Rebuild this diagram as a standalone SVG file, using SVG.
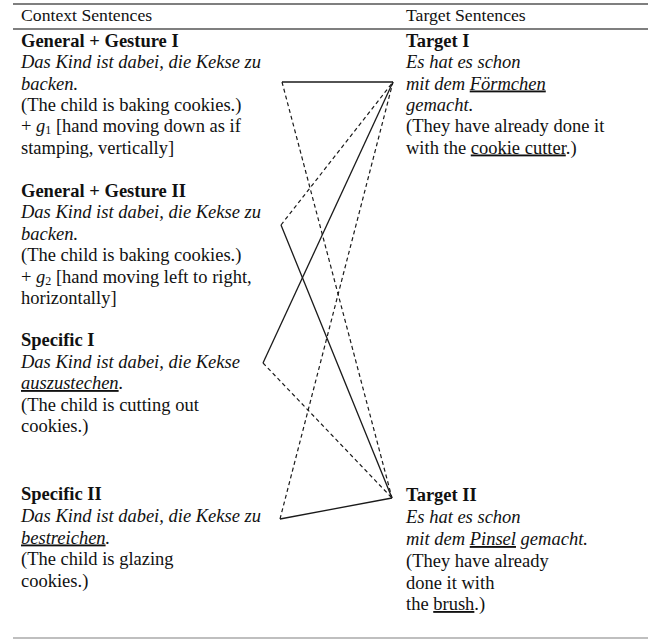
<svg xmlns="http://www.w3.org/2000/svg" width="652" height="639" viewBox="0 0 652 639">
<style>
text{font-family:"Liberation Serif","Times New Roman",serif;font-size:18.5px;fill:#111}
.hd{font-size:17.7px}
.b{font-weight:bold}
.i{font-style:italic}
.u{text-decoration:underline}
.sub{font-size:12px;font-style:normal}
.solid{stroke:#1a1a1a;stroke-width:1.3;fill:none}
.dash{stroke:#1a1a1a;stroke-width:1.2;fill:none;stroke-dasharray:4 3}
</style>
<rect width="652" height="639" fill="#fff"/>
<g id="rules">
<line x1="13" y1="4" x2="648" y2="4" stroke="#555" stroke-width="1.6"/>
<line x1="13" y1="29" x2="648" y2="29" stroke="#555" stroke-width="1.6"/>
<line x1="13" y1="638" x2="648" y2="638" stroke="#aaa" stroke-width="1.6"/>
</g>
<g id="headers">
<text class="hd" x="21" y="21">Context Sentences</text>
<text class="hd" x="406" y="21">Target Sentences</text>
</g>
<g id="general-gesture-1">
<text class="b" x="21" y="47">General + Gesture I</text>
<text class="i" x="21" y="68">Das Kind ist dabei, die Kekse zu</text>
<text class="i" x="21" y="89.5">backen.</text>
<text x="21" y="111">(The child is baking cookies.)</text>
<text x="21" y="132">+ <tspan class="i">g</tspan><tspan class="sub" dy="2">1</tspan><tspan dy="-2"> [hand moving down as if</tspan></text>
<text x="21" y="153.5">stamping, vertically]</text>
</g>
<g id="general-gesture-2">
<text class="b" x="21" y="197">General + Gesture II</text>
<text class="i" x="21" y="218">Das Kind ist dabei, die Kekse zu</text>
<text class="i" x="21" y="239.5">backen.</text>
<text x="21" y="261">(The child is baking cookies.)</text>
<text x="21" y="282.5">+ <tspan class="i">g</tspan><tspan class="sub" dy="2">2</tspan><tspan dy="-2"> [hand moving left to right,</tspan></text>
<text x="21" y="304">horizontally]</text>
</g>
<g id="specific-1">
<text class="b" x="21" y="346">Specific I</text>
<text class="i" x="21" y="367.5">Das Kind ist dabei, die Kekse</text>
<text class="i" x="21" y="389"><tspan class="u">auszustechen</tspan>.</text>
<text x="21" y="410.5">(The child is cutting out</text>
<text x="21" y="432">cookies.)</text>
</g>
<g id="specific-2">
<text class="b" x="21" y="500">Specific II</text>
<text class="i" x="21" y="522">Das Kind ist dabei, die Kekse zu</text>
<text class="i" x="21" y="543.5"><tspan class="u">bestreichen</tspan>.</text>
<text x="21" y="565">(The child is glazing</text>
<text x="21" y="586.5">cookies.)</text>
</g>
<g id="target-1">
<text class="b" x="406" y="47">Target I</text>
<text class="i" x="406" y="68">Es hat es schon</text>
<text class="i" x="406" y="89.5">mit dem <tspan class="u">Förmchen</tspan></text>
<text class="i" x="406" y="111">gemacht.</text>
<text x="406" y="132">(They have already done it</text>
<text x="406" y="153.5">with the <tspan class="u">cookie cutter</tspan>.)</text>
</g>
<g id="target-2">
<text class="b" x="406" y="501">Target II</text>
<text class="i" x="406" y="523">Es hat es schon</text>
<text class="i" x="406" y="545">mit dem <tspan class="u">Pinsel</tspan> gemacht.</text>
<text x="406" y="567">(They have already</text>
<text x="406" y="588.5">done it with</text>
<text x="406" y="610">the <tspan class="u">brush</tspan>.)</text>
</g>
<g id="connectors">
<line class="solid" x1="282" y1="82" x2="393" y2="82"/>
<line class="dash" x1="282" y1="82" x2="392" y2="498"/>
<line class="dash" x1="281" y1="225" x2="393" y2="82"/>
<line class="solid" x1="281" y1="225" x2="392" y2="498"/>
<line class="solid" x1="263" y1="363" x2="393" y2="82"/>
<line class="dash" x1="263" y1="363" x2="392" y2="498"/>
<line class="dash" x1="280" y1="519" x2="393" y2="82"/>
<line class="solid" x1="280" y1="519" x2="392" y2="498"/>
</g>
</svg>
